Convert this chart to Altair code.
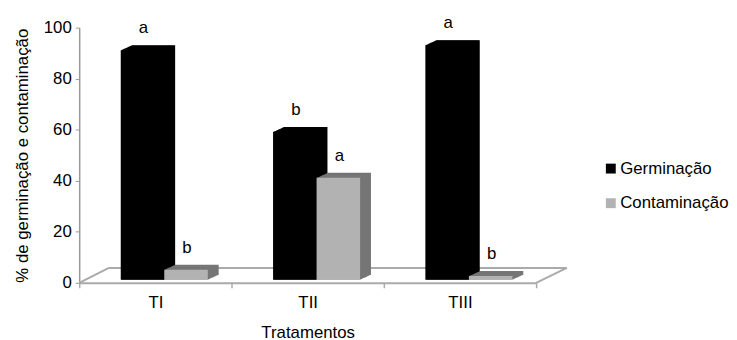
import altair as alt
import pandas as pd

# ---- data ----
tratamentos = ["TI", "TII", "TIII"]
series = ["Germinação", "Contaminação"]
germinacao = [90, 58, 92]
contaminacao = [4, 40, 1.5]
letras_germinacao = ["a", "b", "a"]
letras_contaminacao = ["b", "a", "b"]

rows = []
for i, t in enumerate(tratamentos):
    rows.append({"trat": t, "serie": series[0], "valor": germinacao[i], "letra": letras_germinacao[i]})
    rows.append({"trat": t, "serie": series[1], "valor": contaminacao[i], "letra": letras_contaminacao[i]})
df = pd.DataFrame(rows)

# ---- style ----
W, H = 462, 258
FONT = "Liberation Sans"
FS = 17
FRONT = ["#000000", "#b2b2b2"]
DEPTH_COLORS = ["#000000", "#767676"]
FLOOR = "#aaaaaa"
GROUP_START, GROUP_WIDTH = 42, 88   # position of the bar pair inside each category band
SHIFT_Y = -3                        # bars sit a little inside the floor
DEPTH_X, DEPTH_Y = 11, 5            # extrusion of the 3D boxes
FLOOR_DX, FLOOR_DY = 30, 15

x_enc = alt.X(
    "trat:N", sort=tratamentos,
    scale=alt.Scale(paddingInner=0, paddingOuter=0),
    axis=alt.Axis(title="Tratamentos", labelAngle=0, tickBand="extent",
                  domainColor=FLOOR, domainWidth=2, tickColor=FLOOR, tickWidth=1.5,
                  tickSize=5, labelFont=FONT, labelFontSize=FS, labelColor="#000",
                  labelPadding=7, titleFont=FONT, titleFontSize=FS,
                  titleFontWeight="normal", titleColor="#000", titlePadding=14),
)


def xoff_enc(lo, hi):
    return alt.XOffset("serie:N", sort=series,
                       scale=alt.Scale(paddingInner=0, paddingOuter=0, range=[lo, hi]))


y_enc = alt.Y(
    "valor:Q", scale=alt.Scale(domain=[0, 100]),
    axis=alt.Axis(title="% de germinação e contaminação", values=[0, 20, 40, 60, 80, 100],
                  grid=False, domainColor="#999", domainWidth=1.5, tickColor="#999",
                  tickSize=4, labelFont=FONT, labelFontSize=FS, labelColor="#000",
                  labelPadding=4, titleFont=FONT, titleFontSize=FS,
                  titleFontWeight="normal", titleColor="#000", titlePadding=12),
)

base = alt.Chart(df)
cond_depth = alt.condition(f"datum.serie === '{series[0]}'",
                           alt.value(DEPTH_COLORS[0]), alt.value(DEPTH_COLORS[1]))

layers = []
N = 11
for k in range(N, 0, -1):
    s = DEPTH_X * k / N
    layers.append(
        base.mark_bar(yOffset=SHIFT_Y - DEPTH_Y * k / N).encode(
            x=x_enc, xOffset=xoff_enc(GROUP_START + s, GROUP_START + GROUP_WIDTH + s),
            y=y_enc, color=cond_depth)
    )

front = base.mark_bar(yOffset=SHIFT_Y).encode(
    x=x_enc, xOffset=xoff_enc(GROUP_START, GROUP_START + GROUP_WIDTH), y=y_enc,
    color=alt.Color("serie:N", sort=series,
                    scale=alt.Scale(domain=series, range=FRONT),
                    legend=alt.Legend(title=None, orient="none", legendX=529, legendY=134,
                                      symbolType="square", symbolSize=100,
                                      symbolStrokeWidth=0, labelFont=FONT,
                                      labelFontSize=FS, labelColor="#000",
                                      labelOffset=1, rowPadding=17)),
)

# letters sit over the centre of each bar (point offset scale -> bar centres)
letters = base.mark_text(font=FONT, fontSize=FS, color="#000", baseline="alphabetic",
                         dx=1, dy=SHIFT_Y - 17).encode(
    x=x_enc,
    xOffset=xoff_enc(GROUP_START + GROUP_WIDTH / 4, GROUP_START + 3 * GROUP_WIDTH / 4),
    y=y_enc, text="letra:N")

# 3D floor (back edge and the two side edges; the front edge is the x axis)
zero = alt.Chart(pd.DataFrame({"v": [0]}))
floor_back = zero.mark_rule(color=FLOOR, strokeWidth=2, yOffset=-FLOOR_DY).encode(
    x=alt.value(FLOOR_DX), x2=alt.value(W + FLOOR_DX + 1), y=alt.datum(0))
floor_left = zero.mark_rule(color=FLOOR, strokeWidth=2, y2Offset=-FLOOR_DY).encode(
    x=alt.value(0), x2=alt.value(FLOOR_DX), y=alt.datum(0), y2=alt.datum(0))
floor_right = zero.mark_rule(color=FLOOR, strokeWidth=2, y2Offset=-FLOOR_DY).encode(
    x=alt.value(W), x2=alt.value(W + FLOOR_DX + 1), y=alt.datum(0), y2=alt.datum(0))

chart = alt.layer(floor_back, floor_left, floor_right, *layers, front, letters).resolve_scale(
    xOffset="independent"
).properties(
    width=W, height=H,
    autosize=alt.AutoSizeParams(type="none"),
    padding={"left": 72, "top": 18, "right": 195, "bottom": 60},
    background="white",
).configure_view(stroke=None)

chart.save("out.html", embed_options={"renderer": "svg", "actions": False})
